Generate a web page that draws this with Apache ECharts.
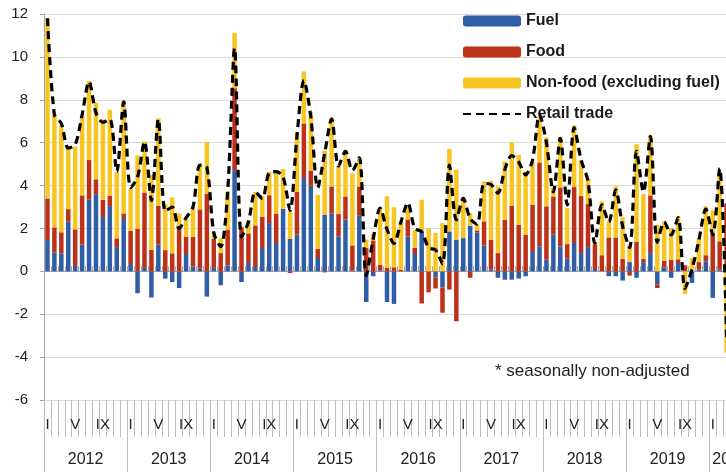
<!DOCTYPE html>
<html>
<head>
<meta charset="utf-8">
<title>Retail trade contributions</title>
<script src="https://cdn.jsdelivr.net/npm/echarts@6/dist/echarts.min.js"></script>
<style>
  html, body { margin: 0; padding: 0; background: #fff; overflow: hidden; }
  /* the chart runs past the right edge of the window, as in the cropped original */
  #chart { width: 760px; height: 472px; }
</style>
</head>
<body>
<div id="chart"></div>
<script>
// years on the lower axis row, 2020 is only partly shown
var years = ['2012', '2013', '2014', '2015', '2016', '2017', '2018', '2019', '2020'];
var monthsInYear = [12, 12, 12, 12, 12, 12, 12, 12, 6];
var romanLabels = ['I', '', '', '', 'V', '', '', '', 'IX', '', '', ''];

var fuel = [
  1.46, 0.89, 0.84, 2.31, 0.25, 1.24, 3.34, 3.6, 2.53, 3.04, 1.13, 2.44,
  0.34, -1.02, 0.16, -1.22, 1.24, -0.34, -0.5, -0.78, 0.81, 0.22, 0.12, -1.18,
  0.16, -0.65, 0.28, 4.72, -0.5, 0.39, 0.2, 1.09, 2.25, 1.32, 2.92, 1.52,
  1.71, 4.35, 3.99, 0.62, 2.64, 2.69, 1.63, 2.41, 0.05, 2.59, -1.43, -0.23,
  0.05, -1.43, -1.52, 0.0, 1.63, 0.81, 1.86, 0.0, -0.28, -0.75, 1.86, 1.48,
  1.55, 2.13, 1.82, 1.21, 0.09, -0.3, -0.39, -0.39, -0.34, -0.23, 0.9, 1.16,
  0.54, 1.71, 1.16, 0.59, 1.32, 0.85, 1.13, 0.11, 0.0, -0.23, -0.23, -0.43,
  0.43, -0.3, 0.43, 0.85, -0.62, 0.19, -0.3, 0.39, 0.0, -0.54, 0.08, 0.47,
  -1.24, 0.08, 0.0
];
var food = [
  1.94, 1.16, 0.98, 0.59, 1.71, 2.3, 1.85, 0.69, 0.81, 0.48, 0.41, 0.26,
  1.54, 1.99, 3.52, 1.0, 1.82, 0.99, 0.84, 2.0, 0.8, 1.39, 2.77, 3.63,
  1.36, 0.85, 1.65, 3.82, 2.05, 1.38, 1.94, 1.46, 1.3, 1.37, 0.0, -0.08,
  1.99, 2.55, 0.71, 0.42, -0.05, 1.27, 1.04, 1.08, 1.16, 1.37, 1.1, 1.44,
  0.26, 0.16, 0.19, 0.08, 0.79, 0.28, -1.5, -0.98, -0.52, -1.18, -0.85, -2.33,
  0.0, -0.3, 0.09, 1.12, 1.39, 0.85, 2.4, 3.06, 2.17, 1.71, 2.2, 3.92,
  2.49, 1.78, 2.75, 0.68, 2.61, 2.66, 2.02, 1.13, 0.75, 1.58, 1.58, 0.59,
  -0.2, 1.37, 0.16, 2.69, -0.16, 0.31, 0.54, 0.17, 0.28, 0.0, 0.35, 0.28,
  1.74, 1.32, 3.17
];
var nonFood = [
  8.4, 5.25, 5.0, 2.85, 3.86, 3.76, 3.69, 3.58, 3.73, 4.01, 3.07, 5.25,
  1.96, 3.41, 2.38, 3.5, 4.08, 2.16, 2.61, 0.7, 0.87, 1.39, 2.08, 2.41,
  0.3, 0.7, 1.8, 2.58, 0.05, 0.59, 1.56, 0.95, 1.1, 2.01, 1.85, 1.3,
  2.78, 2.42, 2.72, 2.53, 2.98, 3.21, 2.22, 2.16, 3.37, 1.29, 0.38, 0.3,
  2.67, 3.34, 2.8, 2.22, 0.63, 0.81, 1.48, 1.99, 1.79, 2.25, 3.85, 3.26,
  1.9, 0.59, 0.29, 1.86, 2.74, 3.11, 2.72, 2.96, 3.26, 2.95, 2.02, 2.14,
  3.21, 0.47, 2.35, 1.68, 2.87, 1.69, 1.17, 0.13, 2.51, 0.75, 2.38, 1.93,
  0.81, 4.56, 3.01, 2.8, 2.17, 1.83, 1.48, 2.0, -1.05, 0.62, 1.12, 2.28,
  1.09, 3.26, -3.8
];
var retail = [
  11.8, 7.3, 6.9, 5.75, 5.9, 7.3, 8.85, 7.4, 6.95, 7.1, 4.65, 7.9,
  3.9, 4.4, 6.05, 3.3, 7.1, 2.8, 3.0, 2.0, 2.5, 3.0, 4.95, 4.85,
  1.8, 1.15, 3.7, 10.4, 1.6, 2.3, 3.7, 3.4, 4.6, 4.65, 4.4, 2.85,
  6.3, 8.9, 7.2, 3.9, 5.5, 7.1, 4.9, 5.6, 4.7, 5.3, -0.2, 1.5,
  2.95, 1.95, 1.3, 2.3, 3.2, 2.0, 1.85, 1.1, 1.0, 0.35, 4.95, 2.4,
  3.4, 2.45, 2.2, 4.1, 4.05, 3.65, 4.75, 5.4, 5.1, 4.5, 5.2, 7.3,
  6.0, 3.7, 6.2, 3.1, 6.7, 5.2, 4.2, 1.3, 3.1, 2.3, 3.8, 2.1,
  1.1, 5.6, 3.7, 6.3, 1.35, 2.3, 1.7, 2.5, -0.8, 0.1, 1.45, 2.9,
  1.7, 4.8, -3.2
];

var months = [];
for (var y = 0; y < years.length; y++) {
  for (var m = 0; m < monthsInYear[y]; m++) {
    months.push(years[y] + '-' + (m + 1));
  }
}

var font = 'Liberation Sans';
var monthWidth = 6.93;
var gridColor = '#d9d9d9';
var axisColor = '#a6a6a6';

var chart = echarts.init(document.getElementById('chart'));
var option = {
  animation: false,
  backgroundColor: '#fff',
  textStyle: { fontFamily: font },
  grid: {
    left: 44,
    top: 14,
    height: 386,
    width: months.length * monthWidth
  },
  legend: {
    orient: 'vertical',
    left: 457,
    top: 8,
    itemWidth: 58,
    itemHeight: 11,
    itemGap: 15,
    data: [
      'Fuel',
      'Food',
      'Non-food (excluding fuel)',
      { name: 'Retail trade', itemStyle: { color: 'rgba(0,0,0,0)', borderColor: 'rgba(0,0,0,0)', borderWidth: 0 } }
    ],
    textStyle: { fontFamily: font, fontSize: 16, fontWeight: 'bold', color: '#1a1a1a', lineHeight: 16 }
  },
  xAxis: [
    {
      // month row: I, V, IX
      type: 'category',
      data: months,
      position: 'bottom',
      axisLine: { onZero: false, lineStyle: { color: gridColor } },
      axisTick: { show: true, interval: 0, length: 37, lineStyle: { color: '#bdbdbd' } },
      axisLabel: {
        interval: 0,
        margin: 17,
        fontSize: 15,
        color: '#222',
        fontFamily: font,
        formatter: function (v, i) { return romanLabels[i % 12]; }
      },
      splitLine: { show: false }
    },
    {
      // year row
      type: 'category',
      data: months,
      position: 'bottom',
      axisLine: { show: false, onZero: false },
      axisTick: {
        show: true,
        length: 72,
        interval: function (i) { return i % 12 === 0; },
        lineStyle: { color: '#bdbdbd' }
      },
      axisLabel: {
        margin: 52,
        fontSize: 16,
        color: '#222',
        fontFamily: font,
        padding: [0, 7, 0, 0],
        interval: function (i) { return i < 96 ? i % 12 === 6 : i === 99; },
        formatter: function (v) { return v.slice(0, 4); }
      },
      splitLine: { show: false }
    },
    {
      // zero line with small ticks
      type: 'category',
      data: months,
      axisLine: { onZero: true, lineStyle: { color: axisColor } },
      axisTick: { show: true, interval: 0, length: 5, lineStyle: { color: axisColor } },
      axisLabel: { show: false },
      splitLine: { show: false }
    }
  ],
  yAxis: {
    type: 'value',
    min: -6,
    max: 12,
    interval: 2,
    axisLine: { show: true, lineStyle: { color: axisColor } },
    axisTick: { show: true, length: 4, lineStyle: { color: axisColor } },
    axisLabel: { margin: 16, fontSize: 15, color: '#222', fontFamily: font },
    splitLine: { lineStyle: { color: gridColor, width: 1.2 } }
  },
  graphic: [{
    type: 'text',
    left: 495,
    top: 363,
    style: { text: '* seasonally non-adjusted', fontSize: 17, fontFamily: font, fill: '#222' }
  }],
  series: [
    { name: 'Fuel', type: 'bar', stack: 'total', barWidth: 4.5, data: fuel, itemStyle: { color: '#2f5da6' } },
    { name: 'Food', type: 'bar', stack: 'total', barWidth: 4.5, data: food, itemStyle: { color: '#be3119' } },
    { name: 'Non-food (excluding fuel)', type: 'bar', stack: 'total', barWidth: 4.5, data: nonFood, itemStyle: { color: '#f7c622' } },
    {
      name: 'Retail trade',
      type: 'line',
      data: retail,
      smooth: 0.3,
      symbol: 'none',
      lineStyle: { color: '#000', width: 3.2, type: [8, 5] },
      itemStyle: { color: '#000' },
      z: 5
    }
  ]
};
chart.setOption(option);
window.onresize = chart.resize;
</script>
</body>
</html>
